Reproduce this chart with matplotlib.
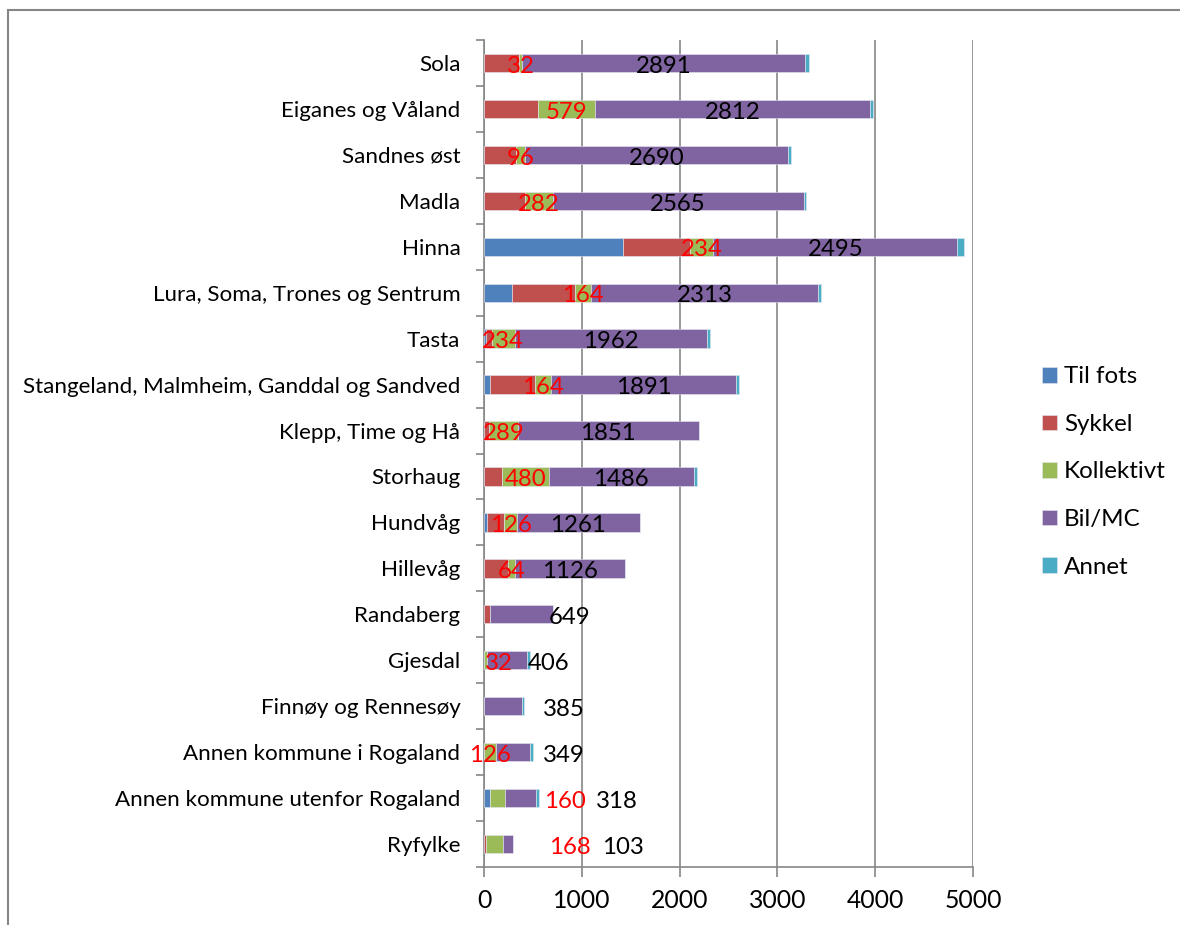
import numpy as np
import matplotlib
matplotlib.use("Agg")
from matplotlib import pyplot as plt
from matplotlib.patches import Rectangle

plt.rcParams['font.family'] = ['Lato', 'DejaVu Sans']

# Omrader, ovenfra og ned
areas = ["Sola", "Eiganes og Våland", "Sandnes øst", "Madla", "Hinna",
         "Lura, Soma, Trones og Sentrum", "Tasta",
         "Stangeland, Malmheim, Ganddal og Sandved", "Klepp, Time og Hå",
         "Storhaug", "Hundvåg", "Hillevåg", "Randaberg", "Gjesdal",
         "Finnøy og Rennesøy", "Annen kommune i Rogaland",
         "Annen kommune utenfor Rogaland", "Ryfylke"]

til_fots   = [0, 0, 0, 0, 1419, 286, 20, 61, 0, 0, 27, 0, 0, 0, 0, 0, 58, 0]
sykkel     = [360, 556, 327, 420, 692, 648, 60, 460, 55, 181, 181, 249, 58, 0, 0, 0, 0, 24]
kollektivt = [32, 579, 96, 282, 234, 164, 234, 164, 289, 480, 126, 64, 0, 32, 0, 126, 160, 168]
bil_mc     = [2891, 2812, 2690, 2565, 2495, 2313, 1962, 1891, 1851, 1486, 1261, 1126, 649, 406, 385, 349, 318, 103]
annet      = [35, 30, 30, 30, 65, 30, 30, 27, 0, 27, 0, 0, 0, 30, 28, 30, 27, 0]

series = ["Til fots", "Sykkel", "Kollektivt", "Bil/MC", "Annet"]
colors = ["#4F81BD", "#C0504D", "#9BBB59", "#8064A2", "#4BACC6"]

# labels that were dragged away from their segment (x in data units)
red_label_x = {"Gjesdal": 150, "Annen kommune utenfor Rogaland": 826, "Ryfylke": 877}
black_label_x = {"Randaberg": 877, "Gjesdal": 662, "Finnøy og Rennesøy": 816,
                 "Annen kommune i Rogaland": 816,
                 "Annen kommune utenfor Rogaland": 1358, "Ryfylke": 1420}

fig = plt.figure(figsize=(11.8, 9.25), dpi=100)
ax = fig.add_axes([484 / 1180, 1 - 867 / 925, 489 / 1180, 827 / 925])

y = np.arange(len(areas))
left = np.zeros(len(areas))
data = [til_fots, sykkel, kollektivt, bil_mc, annet]
for name, vals, col in zip(series, data, colors):
    vals = np.array(vals, dtype=float)
    ax.barh(y, vals, left=left, height=0.4, color=col, label=name,
            edgecolor="#e6e6f0", linewidth=0.4, zorder=3)
    if name == "Kollektivt":
        kol_left = left.copy()
    if name == "Bil/MC":
        bil_left = left.copy()
    left = left + vals

kol = np.array(kollektivt, dtype=float)
bil = np.array(bil_mc, dtype=float)
for i, area in enumerate(areas):
    if kol[i] > 0:
        xr = red_label_x.get(area, kol_left[i] + kol[i] / 2)
        ax.text(xr, i + 0.07, str(kollektivt[i]), color="red", fontsize=17.3,
                ha="center", va="center", zorder=5)
    xb = black_label_x.get(area, bil_left[i] + bil[i] / 2)
    ax.text(xb, i + 0.07, str(bil_mc[i]), color="black", fontsize=17.3,
            ha="center", va="center", zorder=5)

ax.set_xlim(0, 5000)
ax.set_ylim(len(areas) - 0.5, -0.5)
ax.set_xticks([0, 1000, 2000, 3000, 4000, 5000])
ax.set_yticks(y)
ax.set_yticklabels(areas, fontsize=16.1)
ax.set_yticks(np.arange(-0.5, len(areas), 1), minor=True)
ax.tick_params(axis="y", which="major", length=0, pad=17)
ax.tick_params(axis="y", which="minor", length=6, color="#868686", width=1.2)
ax.tick_params(axis="x", length=7, color="#868686", width=1.2, labelsize=17.8, pad=9)
ax.grid(axis="x", color="#868686", linewidth=1.2, zorder=0)
for s in ["top", "right"]:
    ax.spines[s].set_visible(False)
for s in ["left", "bottom"]:
    ax.spines[s].set_color("#868686")
    ax.spines[s].set_linewidth(1.2)

leg = fig.legend(loc="center left", bbox_to_anchor=(1020 / 1180, 1 - 472 / 925),
                 frameon=False, fontsize=17.4, handlelength=0.62, handleheight=0.62,
                 handletextpad=0.3, labelspacing=1.1)

# chart border
fig.patches.append(Rectangle((8 / 1180, -0.1), 1.2, 1.1 - 10 / 925,
                             transform=fig.transFigure, fill=False,
                             edgecolor="#868686", linewidth=1.5))

fig.savefig("out.png", dpi=100)
